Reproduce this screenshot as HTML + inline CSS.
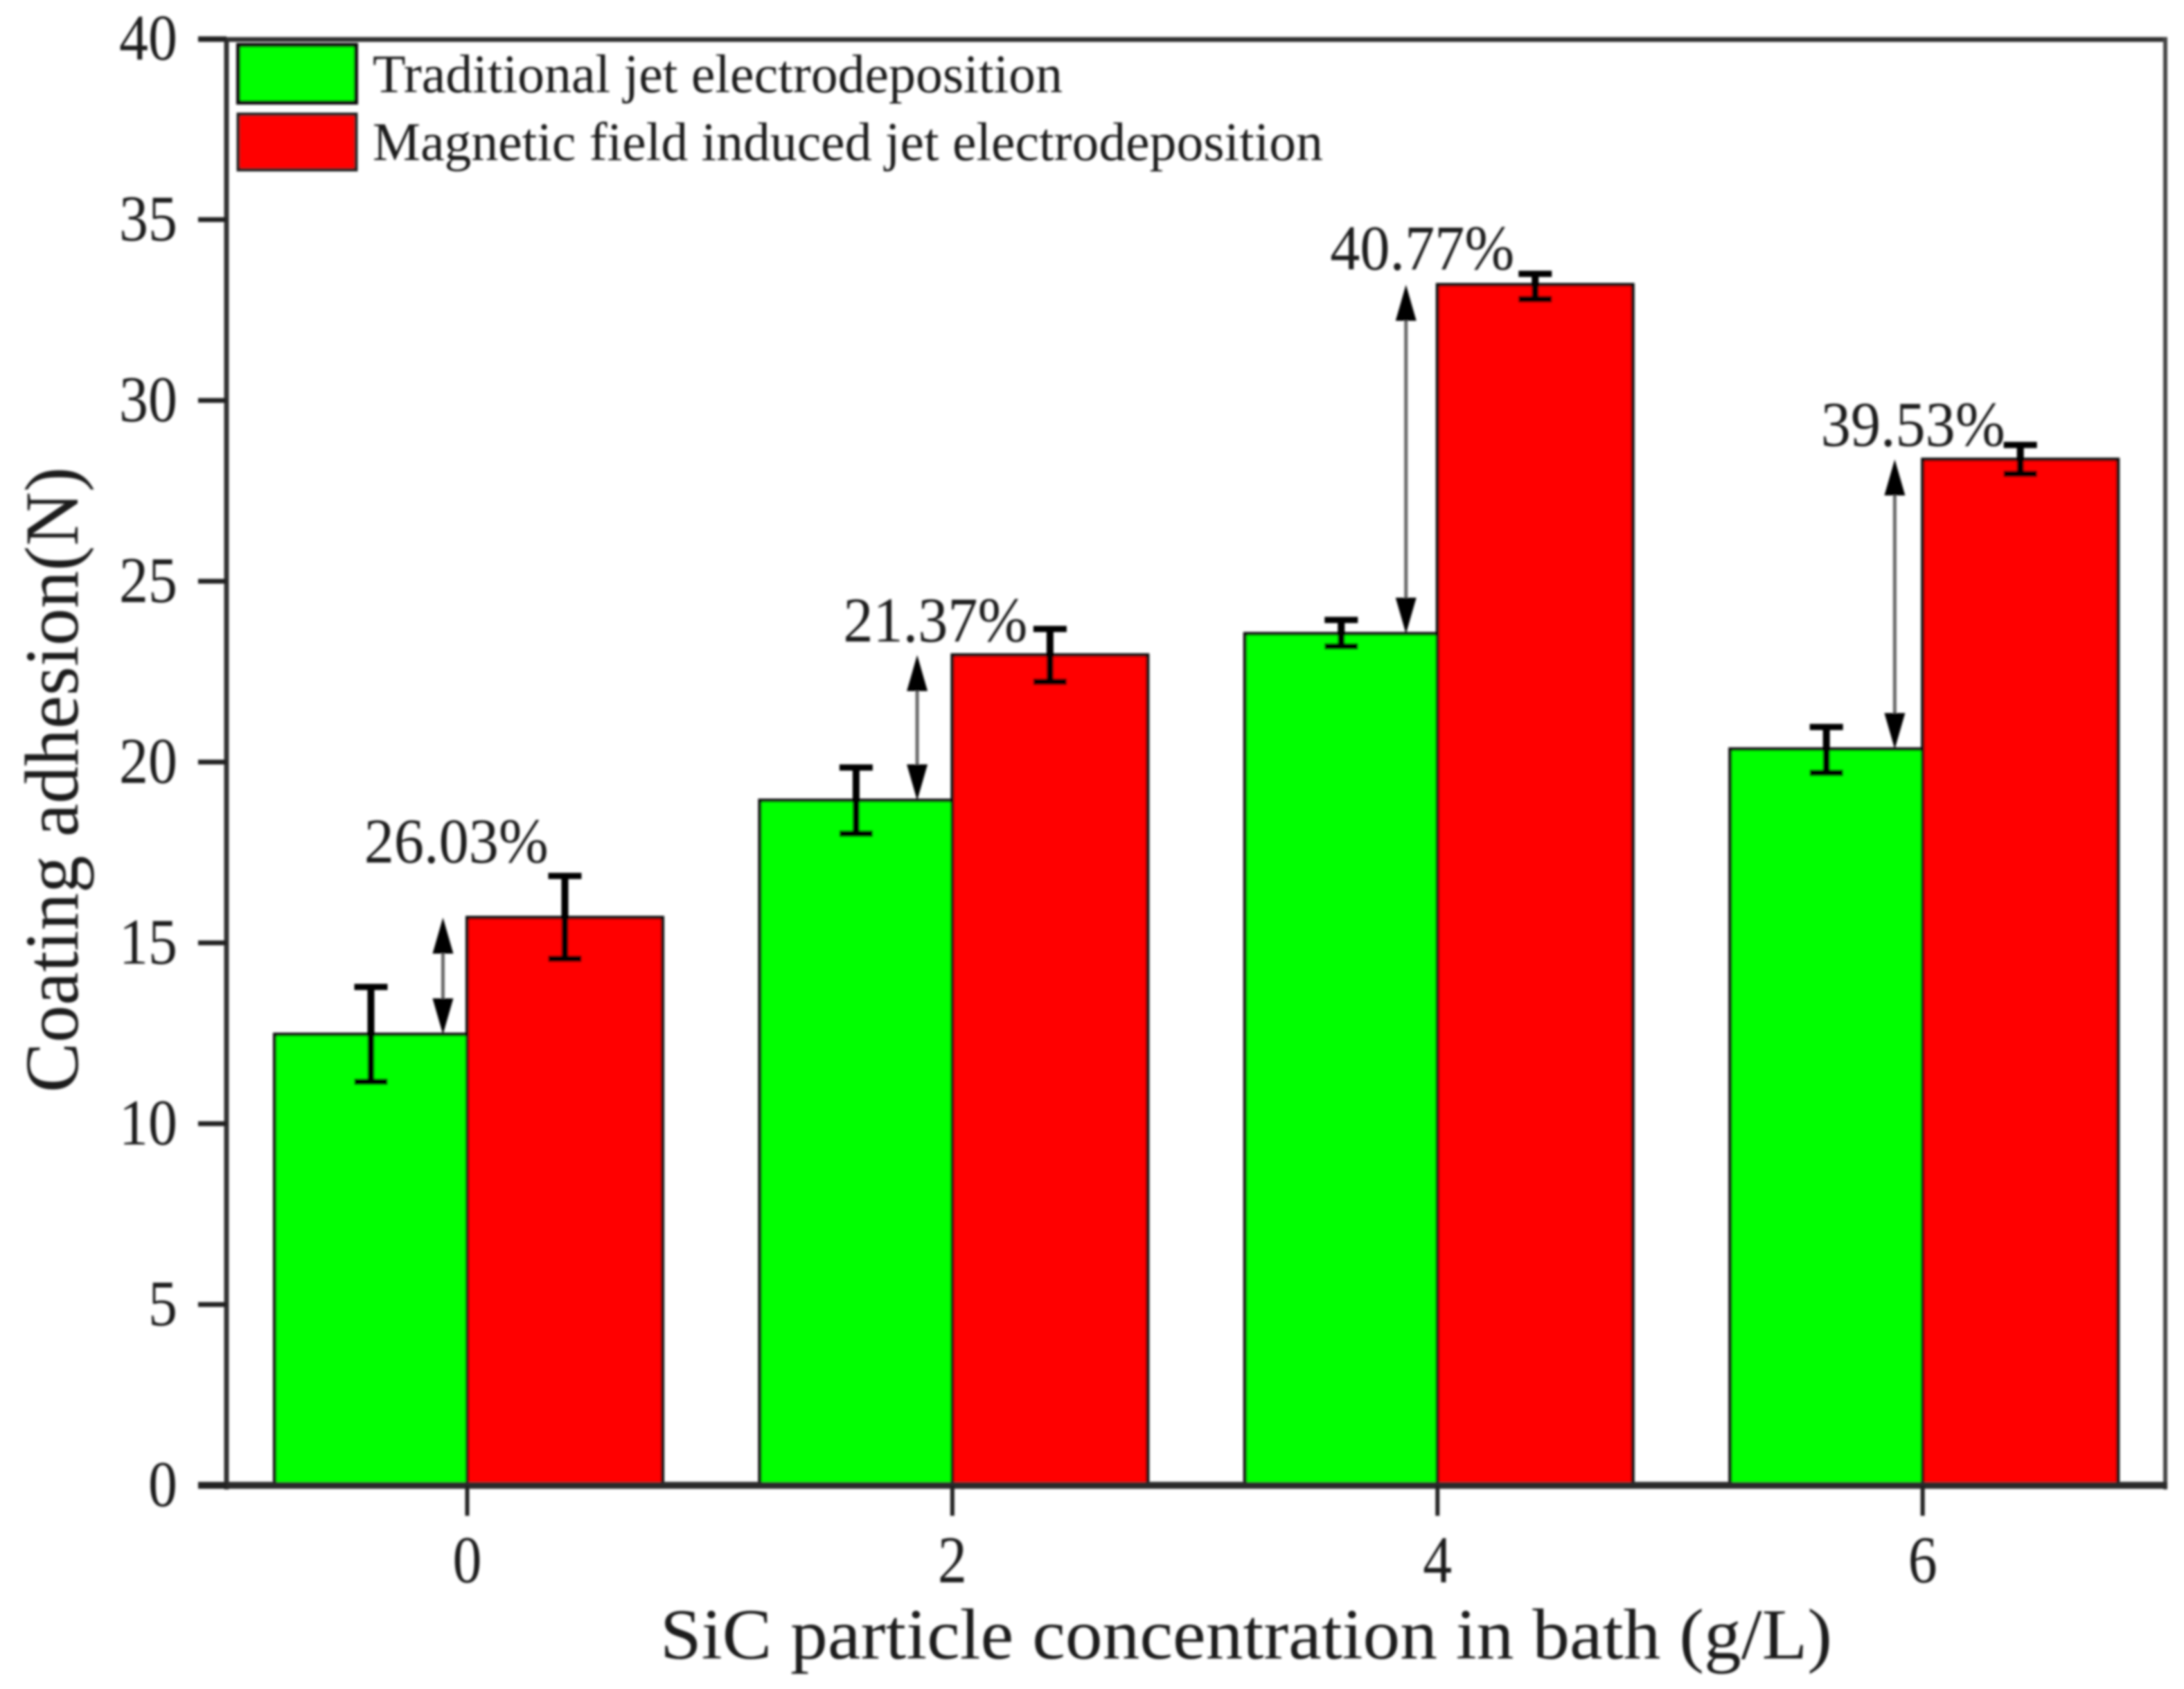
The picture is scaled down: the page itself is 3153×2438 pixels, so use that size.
<!DOCTYPE html>
<html>
<head>
<meta charset="utf-8">
<title>Coating adhesion chart</title>
<style>
html,body{margin:0;padding:0;background:#fff;}
svg{display:block;}
text{font-family:"Liberation Serif",serif;fill:#1c1c1c;}
</style>
</head>
<body>
<svg id="chart" xmlns="http://www.w3.org/2000/svg" width="3153" height="2438" viewBox="0 0 3153 2438">
  <defs>
    <filter id="soft" x="-2%" y="-2%" width="104%" height="104%"><feGaussianBlur stdDeviation="1.5"/></filter>
  </defs>
  <rect x="0" y="0" width="3153" height="2438" fill="#ffffff"/>
  <g id="plot" filter="url(#soft)">
    <g id="bars"></g>
    <g id="errors"></g>
    <g id="annotations"></g>
    <line x1="286" y1="57" x2="3129" y2="57" stroke="#333" stroke-width="7"/>
    <line x1="3126" y1="54" x2="3126" y2="2150" stroke="#444" stroke-width="6"/>
    <line x1="327" y1="54" x2="327" y2="2150" stroke="#333" stroke-width="7"/>
    <line x1="286" y1="2144" x2="3129" y2="2144" stroke="#2a2a2a" stroke-width="10"/>
    <g id="yticks"></g>
    <g id="xticks"></g>
    <g>
      <rect x="344" y="65" width="170" height="83" fill="#00ff00" stroke="#111" stroke-width="6"/>
      <rect x="344" y="165" width="170" height="80" fill="#ff0000" stroke="#222" stroke-width="5"/>
      <text x="538" y="133" font-size="78" textLength="996" lengthAdjust="spacingAndGlyphs">Traditional jet electrodeposition</text>
      <text x="538" y="231" font-size="78" textLength="1372" lengthAdjust="spacingAndGlyphs">Magnetic field induced jet electrodeposition</text>
    </g>
    <text transform="translate(112,1577) rotate(-90)" x="0" y="0" font-size="110" textLength="903" lengthAdjust="spacingAndGlyphs">Coating adhesion(N)</text>
    <text x="953" y="2394" font-size="104" textLength="1692" lengthAdjust="spacingAndGlyphs">SiC particle concentration in bath (g/L)</text>
  </g>
</svg>
<script>
const categories = [0, 2, 4, 6];
const traditional = [12.47, 18.94, 23.55, 20.36];
const magnetic = [15.7, 22.96, 33.2, 28.37];
const traditionalErrHigh = [13.78, 19.85, 23.93, 20.97];
const traditionalErrLow = [11.16, 18.02, 23.2, 19.7];
const magneticErrHigh = [16.85, 23.68, 33.5, 28.77];
const magneticErrLow = [14.56, 22.22, 32.8, 27.97];
const percentLabels = ['26.03%', '21.37%', '40.77%', '39.53%'];
const percentLabelLevels = [17.22, 23.33, 33.62, 28.75];
const percentLabelAt = [-0.045, 1.93, 3.937, 5.96];
const arrowAt = [-0.1, 1.855, 3.87, 5.885];
const yTicks = [0, 5, 10, 15, 20, 25, 30, 35, 40];

const NS = 'http://www.w3.org/2000/svg';
const xScale = c => 674.5 + 350.2 * c;
const yScale = v => 2144 - 52.2 * v;

function mk(parent, tag, attrs, txt) {
  const el = document.createElementNS(NS, tag);
  for (const k in attrs) el.setAttribute(k, attrs[k]);
  if (txt !== undefined) el.textContent = txt;
  parent.appendChild(el);
  return el;
}

const gBars = document.getElementById('bars');
const gErr = document.getElementById('errors');
const gAnn = document.getElementById('annotations');
const gY = document.getElementById('yticks');
const gX = document.getElementById('xticks');

function drawError(cx, hi, lo) {
  const stem = mk(gErr, 'line', {x1: cx, x2: cx, y1: yScale(hi), y2: yScale(lo), stroke: '#000', 'stroke-width': 10});
  
  
  const capTop = mk(gErr, 'line', {x1: cx - 24, x2: cx + 24, y1: yScale(hi), y2: yScale(hi), stroke: '#000', 'stroke-width': 9});
  
  
  const capBottom = mk(gErr, 'line', {x1: cx - 24, x2: cx + 24, y1: yScale(lo), y2: yScale(lo), stroke: '#000', 'stroke-width': 9});
  
  
}

categories.forEach((c, i) => {
  const cx = xScale(c);
  const greenW = 278;
  const redW = 282;
  const g = mk(gBars, 'rect', {x: cx - greenW, y: yScale(traditional[i]), width: greenW, height: yScale(0) - yScale(traditional[i]), fill: '#00ff00', stroke: '#0c0c0c', 'stroke-width': 5});
  
  
  const r = mk(gBars, 'rect', {x: cx, y: yScale(magnetic[i]), width: redW, height: yScale(0) - yScale(magnetic[i]), fill: '#ff0000', stroke: '#0c0c0c', 'stroke-width': 5});
  
  
  drawError(cx - greenW / 2, traditionalErrHigh[i], traditionalErrLow[i]);
  drawError(cx + redW / 2, magneticErrHigh[i], magneticErrLow[i]);

  const ax = xScale(arrowAt[i]);
  const yTop = yScale(magnetic[i]);
  const yBot = yScale(traditional[i]);
  const shaft = mk(gAnn, 'line', {x1: ax, x2: ax, y1: yTop + 30, y2: yBot - 30, stroke: '#666', 'stroke-width': 5});
  
  
  const headUp = mk(gAnn, 'polygon', {points: `${ax},${yTop} ${ax - 15},${yTop + 52} ${ax + 15},${yTop + 52}`, fill: '#000'});
  
  
  const headDown = mk(gAnn, 'polygon', {points: `${ax},${yBot} ${ax - 15},${yBot - 52} ${ax + 15},${yBot - 52}`, fill: '#000'});
  
  
  const lbl = mk(gAnn, 'text', {x: xScale(percentLabelAt[i]), y: yScale(percentLabelLevels[i]), 'font-size': 92, 'text-anchor': 'middle', textLength: 266, lengthAdjust: 'spacingAndGlyphs'}, percentLabels[i]);
  
  

  const tick = mk(gX, 'line', {x1: cx, x2: cx, y1: yScale(0), y2: yScale(0) + 44, stroke: '#222', 'stroke-width': 6});
  
  
  const tickLabel = mk(gX, 'text', {x: cx, y: 2284, 'font-size': 96, 'text-anchor': 'middle', textLength: 42, lengthAdjust: 'spacingAndGlyphs'}, String(c));
  
  
});

yTicks.forEach(v => {
  const y = yScale(v);
  const tick = mk(gY, 'line', {x1: 286, x2: 327, y1: y, y2: y, stroke: '#222', 'stroke-width': 7});
  
  
  const s = String(v);
  const lab = mk(gY, 'text', {x: 256, y: y + 30, 'font-size': 94, 'text-anchor': 'end', textLength: 42 * s.length, lengthAdjust: 'spacingAndGlyphs'}, s);
  
  
});
</script>
</body>
</html>
